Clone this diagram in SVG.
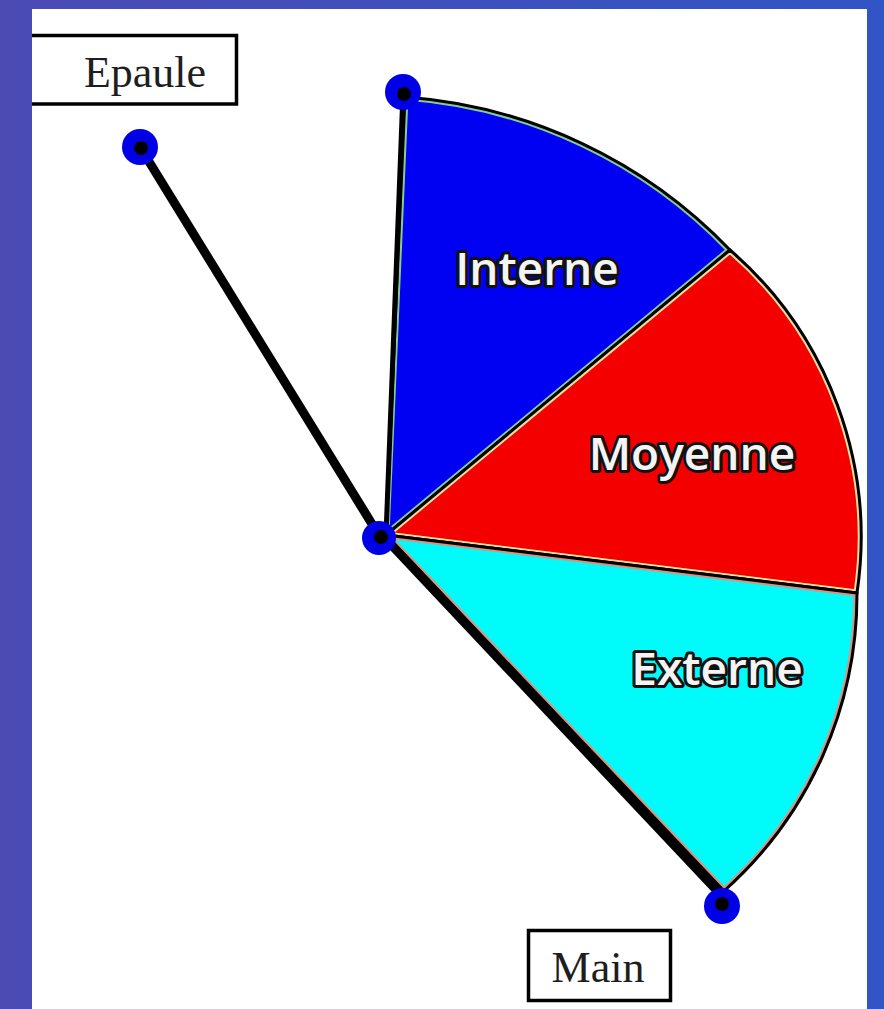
<svg xmlns="http://www.w3.org/2000/svg" xmlns:xlink="http://www.w3.org/1999/xlink" width="884" height="1009" viewBox="0 0 884 1009">
<style>
.edge{fill:none;stroke:#000;stroke-width:3;stroke-linejoin:round}
.lbl{font-family:"Open Sans","Noto Sans",sans-serif;font-weight:600;font-size:46px;fill:#f4f4f4;stroke:#111;stroke-width:6;stroke-linejoin:round;paint-order:stroke;text-anchor:middle}
.box{fill:#fff;stroke:#000;stroke-width:3.5}
.name{font-family:"Liberation Serif","Times New Roman",serif;font-size:44px;fill:#1e1e1e;text-anchor:middle}
.arm{stroke:#000;stroke-width:9;stroke-linecap:round}
.dotO{fill:#0000e6}
.dotI{fill:#000}
</style>
<defs>
<linearGradient id="bg" x1="0" y1="0" x2="1" y2="0">
<stop offset="0" stop-color="#4c4bb4"/>
<stop offset="1" stop-color="#3155c6"/>
</linearGradient>
<path id="pI" d="M386,535 L405,97 A500,500 0 0 1 730,250 Z"/>
<path id="pM" d="M386,535 L730,250 A380,380 0 0 1 857,593 Z"/>
<path id="pE" d="M386,535 L857,593 A397,397 0 0 1 724,891 Z"/>
<clipPath id="cI"><use xlink:href="#pI"/></clipPath>
<clipPath id="cM"><use xlink:href="#pM"/></clipPath>
<clipPath id="cE"><use xlink:href="#pE"/></clipPath>
</defs>
<rect x="0" y="0" width="884" height="1009" fill="url(#bg)"/>
<rect x="32" y="9" width="835" height="1000" fill="#fff"/>

<g id="interne">
<use xlink:href="#pI" fill="#0000f2"/>
<use xlink:href="#pI" fill="none" stroke="#86cf94" stroke-width="7" clip-path="url(#cI)"/>
<use xlink:href="#pI" class="edge"/>
<text class="lbl" x="537" y="285">Interne</text>
</g>
<g id="moyenne">
<use xlink:href="#pM" fill="#f50000"/>
<use xlink:href="#pM" fill="none" stroke="#efe0a0" stroke-width="7" clip-path="url(#cM)"/>
<use xlink:href="#pM" class="edge"/>
<text class="lbl" x="692" y="470">Moyenne</text>
</g>
<g id="externe">
<use xlink:href="#pE" fill="#00fbfb"/>
<use xlink:href="#pE" fill="none" stroke="#e0907e" stroke-width="7" clip-path="url(#cE)"/>
<use xlink:href="#pE" class="edge"/>
<text class="lbl" x="717" y="685">Externe</text>
</g>

<g id="connectors">
<line x1="403" y1="92" x2="386" y2="535" stroke="#000" stroke-width="5"/>
<line class="arm" x1="140" y1="147" x2="380" y2="537"/>
<line class="arm" x1="383" y1="536" x2="722" y2="896"/>
</g>

<g id="epaule">
<path class="box" d="M32,35.5 H236.5 V104 H32"/>
<text class="name" x="145" y="87">Epaule</text>
</g>
<g id="main">
<rect class="box" x="528.5" y="930.5" width="142" height="70"/>
<text class="name" x="598" y="982">Main</text>
</g>

<g id="joint-shoulder"><circle class="dotO" cx="140" cy="147" r="18"/><circle class="dotI" cx="141" cy="148" r="7"/></g>
<g id="joint-top"><circle class="dotO" cx="403" cy="92" r="18"/><circle class="dotI" cx="404" cy="94" r="7"/></g>
<g id="joint-elbow"><circle class="dotO" cx="379" cy="538" r="17"/><circle class="dotI" cx="381" cy="537" r="7"/></g>
<g id="joint-hand"><circle class="dotO" cx="722" cy="906" r="18"/><circle class="dotI" cx="722" cy="904" r="7"/></g>
</svg>
